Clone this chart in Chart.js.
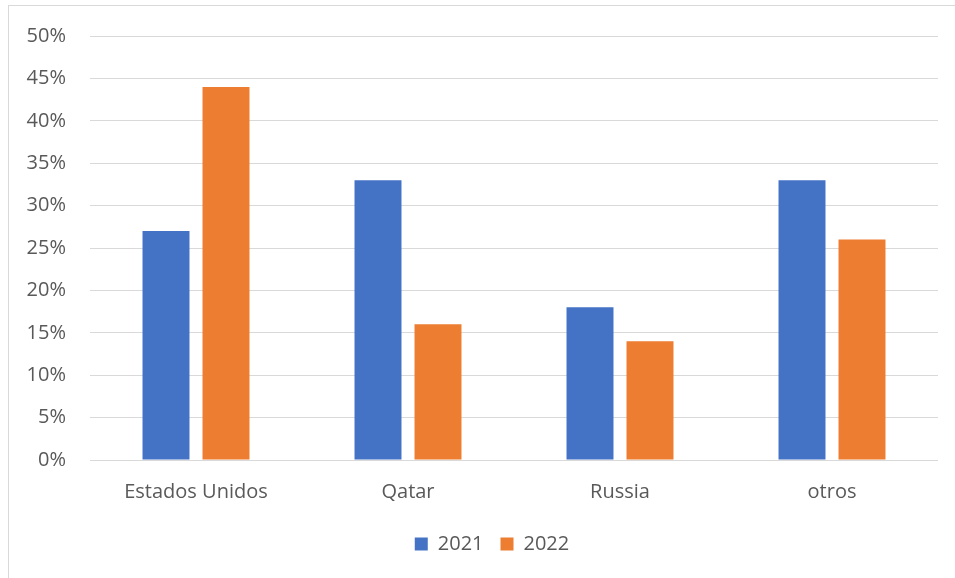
<!DOCTYPE html>
<html>
<head>
<meta charset="utf-8">
<script src="https://cdn.jsdelivr.net/npm/chart.js@4/dist/chart.umd.min.js"></script>
<style>
  html, body { margin: 0; padding: 0; background: #fff; }
  #wrap { position: relative; width: 955px; height: 578px; overflow: hidden; }
  #frame { position: absolute; left: 8px; top: 5px; width: 1000px; height: 700px; border: 1px solid #d9d9d9; box-sizing: border-box; }
  #chart { position: absolute; left: 0; top: 0; }
</style>
</head>
<body>
<div id="wrap">
  <div id="frame"></div>
  <canvas id="chart" width="955" height="578"></canvas>
</div>
<script>
// Datos
const categories = ['Estados Unidos', 'Qatar', 'Russia', 'otros'];
const seriesNames = ['2021', '2022'];
const values2021 = [27, 33, 18, 33];
const values2022 = [44, 16, 14, 26];
const colors = ['#4472C4', '#ED7D31'];

const font = { family: '"Open Sans", sans-serif', size: 20 };
const textColor = '#595959';

// la leyenda queda un poco a la derecha del centro del lienzo
const legendShift = {
  id: 'legendShift',
  afterLayout: (chart) => {
    chart.legend.left += 23;
    chart.legend.right += 23;
  },
};

new Chart(document.getElementById('chart'), {
  type: 'bar',
  data: {
    labels: categories,
    datasets: [
      { label: seriesNames[0], data: values2021, backgroundColor: colors[0] },
      { label: seriesNames[1], data: values2022, backgroundColor: colors[1] },
    ],
  },
  plugins: [legendShift],
  options: {
    responsive: false,
    animation: false,
    categoryPercentage: 0.566,
    barPercentage: 0.783,
    layout: { padding: { top: 23, right: 17, left: 0, bottom: 14 } },
    plugins: {
      tooltip: { enabled: false },
      legend: {
        position: 'bottom',
        labels: { font, color: textColor, boxWidth: 13, boxHeight: 13, padding: 17 },
      },
    },
    scales: {
      x: {
        grid: { display: false },
        border: { display: false },
        ticks: { font, color: textColor, padding: 12, maxRotation: 0 },
        afterFit: (s) => { s.height = 57; },
      },
      y: {
        min: 0,
        max: 50,
        grid: { color: '#d9d9d9', drawTicks: false },
        border: { display: false },
        ticks: { stepSize: 5, font, color: textColor, padding: 24, callback: (v) => v + '%' },
        afterFit: (s) => { s.width = 90; },
      },
    },
  },
});
</script>
</body>
</html>
